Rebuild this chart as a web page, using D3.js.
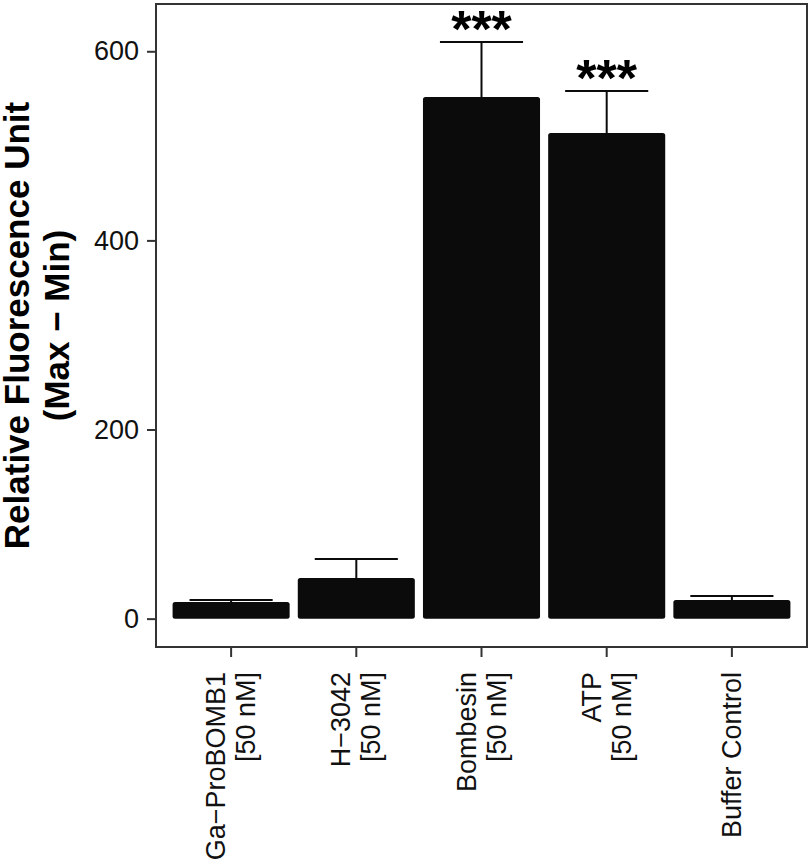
<!DOCTYPE html>
<html>
<head>
<meta charset="utf-8">
<script src="https://cdn.jsdelivr.net/npm/d3@7"></script>
<style>
  body { margin: 0; background: #fff; }
  text { font-family: "Liberation Sans", Arial, sans-serif; }
</style>
</head>
<body>
<div id="graph"></div>
<script>
// data
var groups = ["Ga-ProBOMB1", "H-3042", "Bombesin", "ATP", "Buffer Control"];
var groupLabels = [["Ga\u2212ProBOMB1", "[50 nM]"],
                   ["H\u22123042", "[50 nM]"],
                   ["Bombesin", "[50 nM]"],
                   ["ATP", "[50 nM]"],
                   ["Buffer Control"]];
var means = [17.6, 42.9, 551.6, 513.6, 19.7];
var errs = [2.1, 20.1, 58.2, 44.3, 4.2];
var stars = ["", "", "***", "***", ""];
var yTicks = [0, 200, 400, 600];

var width = 810, height = 860;
var panel = {left: 156, right: 807, top: 4, bottom: 647};

var svg = d3.select("#graph")
  .append("svg")
    .attr("width", width)
    .attr("height", height);

var x = d3.scaleBand()
    .domain(groups)
    .range([panel.left, panel.right])
    .paddingInner(0.065)
    .paddingOuter(0.1325);

var y = d3.scaleLinear()
    .domain([-30, 650])
    .range([panel.bottom, panel.top]);

var data = groups.map(function(g, i) {
  return {g: g, mean: means[i], err: errs[i], star: stars[i], label: groupLabels[i]};
});

// bars
svg.append("g")
  .selectAll("rect")
  .data(data)
  .join("rect")
    .attr("x", d => x(d.g))
    .attr("width", x.bandwidth())
    .attr("y", d => y(d.mean))
    .attr("height", d => y(0) - y(d.mean))
    .attr("rx", 2.5)
    .attr("fill", "#0b0b0b");

// error bars (upper half only shows)
var capW = x.bandwidth() * 0.71;
var eb = svg.append("g")
    .attr("stroke", "#0b0b0b")
    .attr("stroke-width", 2);
eb.selectAll("line.v")
  .data(data)
  .join("line")
    .attr("class", "v")
    .attr("x1", d => x(d.g) + x.bandwidth() / 2)
    .attr("x2", d => x(d.g) + x.bandwidth() / 2)
    .attr("y1", d => y(d.mean))
    .attr("y2", d => y(d.mean + d.err));
eb.selectAll("line.cap")
  .data(data)
  .join("line")
    .attr("class", "cap")
    .attr("x1", d => x(d.g) + x.bandwidth() / 2 - capW / 2)
    .attr("x2", d => x(d.g) + x.bandwidth() / 2 + capW / 2)
    .attr("y1", d => y(d.mean + d.err))
    .attr("y2", d => y(d.mean + d.err));

// significance stars
svg.append("g")
  .selectAll("text")
  .data(data.filter(d => d.star))
  .join("text")
    .attr("x", d => x(d.g) + x.bandwidth() / 2)
    .attr("y", d => y(d.mean + d.err) + 5)
    .attr("text-anchor", "middle")
    .attr("font-size", 52)
    .attr("font-weight", "bold")
    .attr("fill", "#000")
    .text(d => d.star);

// panel border
svg.append("rect")
    .attr("x", panel.left)
    .attr("y", panel.top)
    .attr("width", panel.right - panel.left)
    .attr("height", panel.bottom - panel.top)
    .attr("fill", "none")
    .attr("stroke", "#333")
    .attr("stroke-width", 2);

// y axis
var yAxis = svg.append("g")
    .attr("transform", "translate(" + panel.left + ",0)")
    .call(d3.axisLeft(y).tickValues(yTicks).tickSize(9).tickPadding(8));
yAxis.select(".domain").remove();
yAxis.selectAll(".tick line").attr("stroke", "#333").attr("stroke-width", 2);
yAxis.selectAll(".tick text")
    .attr("font-size", 27)
    .attr("fill", "#111")
    .style("font-family", "Liberation Sans, Arial, sans-serif");

// x axis
var xAxis = svg.append("g")
    .attr("transform", "translate(0," + panel.bottom + ")")
    .call(d3.axisBottom(x).tickSize(10).tickFormat(""));
xAxis.select(".domain").remove();
xAxis.selectAll(".tick line").attr("stroke", "#333").attr("stroke-width", 2);

var lh = 30;
var xl = svg.append("g")
  .selectAll("text")
  .data(data)
  .join("text")
    .attr("transform", d => "translate(" + (x(d.g) + x.bandwidth() / 2) + "," + (panel.bottom + 25) + ") rotate(-90)")
    .attr("text-anchor", "end")
    .attr("font-size", 27)
    .attr("fill", "#111");
xl.each(function(d) {
  var n = d.label.length;
  d3.select(this).selectAll("tspan")
    .data(d.label)
    .join("tspan")
      .attr("x", 0)
      .attr("y", (t, i) => (i - (n - 1) / 2) * lh + 9)
      .text(t => t);
});

// y title
var cy = (panel.top + panel.bottom) / 2;
var yt = svg.append("text")
    .attr("transform", "translate(0," + cy + ") rotate(-90)")
    .attr("text-anchor", "middle")
    .attr("font-size", 35)
    .attr("font-weight", "bold")
    .attr("fill", "#000");
yt.append("tspan").attr("x", 0).attr("y", 29).text("Relative Fluorescence Unit");
yt.append("tspan").attr("x", 0).attr("y", 69).text("(Max \u2212 Min)");
</script>
</body>
</html>
